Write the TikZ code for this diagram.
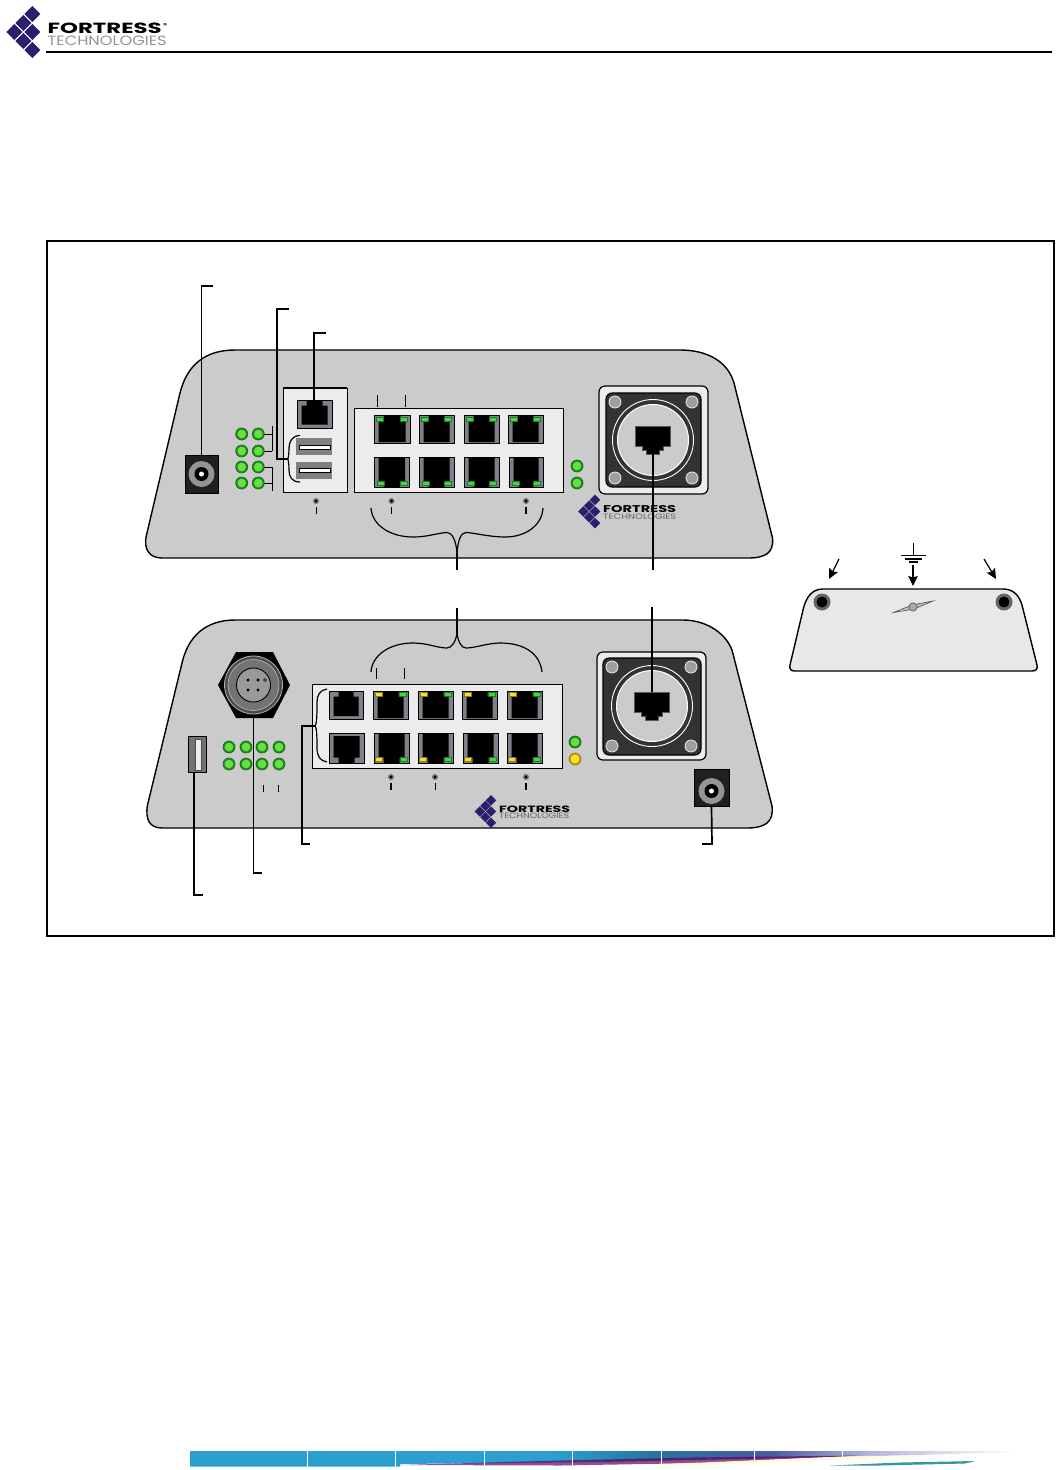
\documentclass[tikz,border=0pt]{standalone}
\usepackage{fontspec}
\setmainfont{Poppins}
\usetikzlibrary{arrows.meta}
\definecolor{navyd}{HTML}{2A1F6E}
\definecolor{bodyg}{HTML}{CBCBCB}
\definecolor{panelg}{HTML}{ECECEC}
\definecolor{portg}{HTML}{80808A}
\definecolor{ledgo}{HTML}{1F8F1F}
\definecolor{ledgi}{HTML}{66E044}
\definecolor{ledyo}{HTML}{C9A400}
\definecolor{ledy}{HTML}{FFDC33}
\definecolor{rjgreen}{HTML}{3DDC3D}
\definecolor{barA}{HTML}{2A9FD0}
\definecolor{barB}{HTML}{27739F}
\definecolor{barC}{HTML}{4B5A9E}
\definecolor{barD}{HTML}{B4B6E0}
\pgfdeclarehorizontalshading{barmain}{100bp}{color(0bp)=(barA);color(25bp)=(barA);color(47bp)=(barA);color(53bp)=(barB);color(60bp)=(barC);color(66bp)=(barD);color(75bp)=(white);color(100bp)=(white)}
\tikzset{
 x=1pt,y=-1pt,
 leader/.style={draw=black,line width=1.2pt},
 leaderb/.style={draw=black,line width=1.7pt},
 thin tick/.style={draw=black,line width=1pt},
 thick tick/.style={draw=black,line width=1.5pt},
 device/.style={draw=black,line width=1.4pt,fill=bodyg,line join=round},
 panel/.style={draw=black,line width=1pt,fill=panelg},
 brace/.style={draw=black,line width=1.2pt},
 arrowline/.style={draw=black,line width=1.2pt,-{Stealth[length=10pt,width=9.5pt,inset=1.5pt]}},
 diamondmark/.style={fill=navyd},
 jackbox/.style={draw=black,fill=black!88,line width=.8pt,minimum width=#1,inner sep=0pt},
 usbbox/.style={fill=black!50,inner sep=0pt},
}
\newcommand{\logomark}[5]{%
 \foreach \cx/\cy in {0/-2,0/0,0/2,-1/-1,-1/1,-2/0}{%
  \fill[diamondmark] ({#1+\cx*#3-#5},{#2+\cy*#4}) -- ({#1+\cx*#3},{#2+\cy*#4-#5}) -- ({#1+\cx*#3+#5},{#2+\cy*#4}) -- ({#1+\cx*#3},{#2+\cy*#4+#5}) -- cycle;
 }}
\newcommand{\led}[4]{%
 \fill[draw=#3!75!black,line width=.7pt,fill=#3] (#1,#2) circle (6);
 \fill[#4] (#1,#2) circle (4.3);
}
\newcommand{\dotled}[2]{%
 \fill[black!55] (#1,#2) circle (3);
 \fill[black] (#1,#2) circle (1.7);
}
\newcommand{\rjled}[3]{%
 \fill[draw=black!45!#3,line width=.6pt,fill=#3] ({#1-3.7},{#2-2}) rectangle ({#1+3.7},{#2+2});
}
\newcommand{\rjport}[6]{%
 \pgfmathsetmacro\hw{(#2-#1)/2}\pgfmathsetmacro\hh{(#4-#3)/2}%
 \begin{scope}[shift={({(#1+#2)/2},{(#3+#4)/2})},yscale=#5]
 \fill[draw=black,line width=1pt,fill=portg] (-\hw,-\hh) rectangle (\hw,\hh);
 \fill[black] ({-\hw+4.5},{\hh-#6}) -- ({\hw-4.5},{\hh-#6}) -- ({\hw-4.5},{-\hh+5.5}) -- ({\hw-9.5},{-\hh+5.5}) -- ({\hw-9.5},-\hh) -- ({-\hw+9.5},-\hh) -- ({-\hw+9.5},{-\hh+5.5}) -- ({-\hw+4.5},{-\hh+5.5}) -- cycle;
 \end{scope}}
\newcommand{\bigconn}[8]{%
 \draw[line width=1.2pt,fill=panelg,rounded corners=6pt] (#1,#2) rectangle (#3,#4);
 \draw[line width=1.1pt,fill=black!80,rounded corners=6pt] (#5,#6) rectangle (#7,#8);
}
\newcommand{\bigcore}[7]{%
 \foreach \hx/\hy in {#3/#5,#4/#5,#3/#6,#4/#6}{
  \fill[draw=black!12,line width=.9pt,fill=black!38] ({#1+\hx},{#2+\hy}) circle (6);
 }
 \draw[white,line width=.9pt] (#1,#2) circle (40.5);
 \fill[draw=white,line width=1pt,fill=bodyg] (#1,#2) circle (35.5);
 \fill[draw=black!65,line width=.7pt,fill=black] ({#1-17.5},{#2-14}) -- ({#1+17.5},{#2-14}) -- ({#1+17.5},{#2+6}) -- ({#1+10.5},{#2+6}) -- ({#1+10.5},{#2+10}) -- ({#1+6.5},{#2+10}) -- ({#1+6.5},{#2+14}) -- ({#1-6.5},{#2+14}) -- ({#1-6.5},{#2+10}) -- ({#1-10.5},{#2+10}) -- ({#1-10.5},{#2+6}) -- ({#1-17.5},{#2+6}) -- cycle;
 \coordinate (#7top) at (#1,{#2-14});
 \coordinate (#7bot) at (#1,{#2+14});
}
\newcommand{\jack}[6]{%
 \node[jackbox=#4pt,minimum height=#5pt] (#1) at (#2,#3) {};
 \fill[black!42] (#2,#6) circle (13);
 \fill[black] (#2,#6) circle (7);
 \fill[white] (#2,#6) circle (2.5);
}
\begin{document}
\begin{tikzpicture}
\useasboundingbox (0,0) rectangle (1055,1470);
\fill[white] (0,0) rectangle (1055,1470);

% header
\logomark{32.3}{32}{9}{9}{8}
\node[inner sep=0pt,anchor=north west] (hdrA) at (47.5,23) {\resizebox{114pt}{10.5pt}{\bfseries FORTRESS}};
\node[inner sep=0pt,anchor=north west] (hdrR) at (163,23) {\resizebox{4pt}{4pt}{\bfseries ®}};
\node[inner sep=0pt,anchor=north west,text=black!42] (hdrB) at (47.5,36) {\resizebox{119pt}{9.5pt}{TECHNOLOGIES}};
\coordinate (ruleL) at (46,52);
\coordinate (ruleR) at (1052,52);
\draw[line width=2pt] (ruleL) -- (ruleR);

% frame
\draw[line width=1.8pt] (47,241) rectangle (1054,936);

% ---------- device 1 ----------
\draw[device] (235,350) .. controls (205,350) and (187,365) .. (180,393)
  -- (146.5,535) .. controls (143,550) and (150,558) .. (162,558)
  -- (748,558) .. controls (765,558) and (774,553) .. (772.5,538)
  -- (734,383) .. controls (728,362) and (708,350) .. (680,350) -- cycle;

\jack{jackA}{201.5}{474}{33}{38}{474}
\foreach \ly in {434,451,467,483}{\led{241.7}{\ly}{ledgo}{ledgi}\led{258.3}{\ly}{ledgo}{ledgi}}
\foreach \ly in {434,451}{\draw[thin tick] (264,\ly) -- (272,\ly);}
\foreach \ly in {467,483}{\draw[thin tick] (264,\ly) -- (272,\ly);}
\draw[thin tick] (272,426) -- (272,451);
\draw[thin tick] (272,467) -- (272,491);

\draw[panel] (283,388) rectangle (347,492.5);
\draw[line width=1.6pt] (283,388) -- (347,388);
\rjport{297}{332}{400}{428}{1}{3.5}
\coordinate (consoleTop) at (314,402);
\node[usbbox,minimum width=36pt,minimum height=17pt] (usbA) at (314,446.5) {};
\node[usbbox,minimum width=36pt,minimum height=17pt] (usbB) at (314,470.5) {};
\draw[fill=white,line width=.8pt] (299.5,445) rectangle (330,449);
\draw[fill=white,line width=.8pt] (299.5,468.5) rectangle (330,472.5);
\coordinate (usbtip) at (288,459);
\draw[brace] (300,435.5) .. controls (292,435.5) and (289,442) .. (289,448) .. controls (289,455) and (288,458) .. (usbtip) .. controls (288,460) and (289,463) .. (289,470) .. controls (289,477) and (292,482) .. (300,482);

\draw[panel] (354,408) rectangle (563,492.5);
\foreach \xa/\xb in {374/410,419/454,464/499,508/543}{
 \rjport{\xa}{\xb}{415}{443}{1}{1}
 \rjled{\xa+6}{418.8}{rjgreen}
 \rjled{\xb-6}{418.8}{rjgreen}
}
\foreach \xa/\xb in {374/409.5,419/454,464/499,509/543}{
 \rjport{\xa}{\xb}{457}{487}{-1}{1}
 \rjled{\xa+6.5}{483}{rjgreen}
 \rjled{\xb-6}{483}{rjgreen}
}
\draw[thin tick] (377,395) -- (377,407);
\draw[thin tick] (405,395) -- (405,407);
\led{577}{466}{ledgo}{ledgi}
\led{577}{483}{ledgo}{ledgi}
\foreach \dx in {316,391.5,526}{\dotled{\dx}{501}}
\draw[thin tick] (316,507) -- (316,514);
\draw[thin tick] (391.5,507) -- (391.5,514);
\draw[thick tick] (526,507) -- (526,514);

\bigconn{599}{386}{708}{494}{606}{393}{701}{487}
\bigcore{653}{440}{-38}{39}{-38}{38}{rjA}

\logomark{595}{511.5}{5.8}{5.8}{5.3}
\node[inner sep=0pt,anchor=north west] (logoA) at (603,505) {\resizebox{73pt}{7pt}{\bfseries FORTRESS}};
\node[inner sep=0pt,anchor=north west,text=black!60] (logoAb) at (603,513.5) {\resizebox{73pt}{5.5pt}{TECHNOLOGIES}};

% connectors device 1
\coordinate (jackAturn) at (201.5,286);
\coordinate (jackAend) at (213,286);
\draw[leader] (jackA.north) -- (jackAturn) -- (jackAend);
\coordinate (usbturn) at (277,459);
\coordinate (usbup) at (277,309);
\coordinate (usbend) at (289,309);
\draw[leader,line width=1.4pt] (usbtip) -- (usbturn) -- (usbup) -- (usbend);
\coordinate (consUp) at (314,333);
\coordinate (consEnd) at (326,333);
\draw[leaderb] (consoleTop) -- (consUp) -- (consEnd);
\coordinate (rjAend) at (653,570);
\draw[leader] (rjAbot) -- (rjAend);

% brace device 1
\coordinate (braceAtip) at (457,553);
\coordinate (braceAend) at (457,570);
\draw[brace] (371,508) .. controls (372,525) and (390,537) .. (413,537) .. controls (428,537) and (437,533) .. (447,532.5) .. controls (452,532.5) and (456,540) .. (braceAtip);
\draw[brace] (543,508) .. controls (542,526) and (525,537) .. (505,537) .. controls (490,537) and (475,533) .. (466,532.5) .. controls (461,532.5) and (458,540) .. (braceAtip);
\draw[leaderb] (braceAtip) -- (braceAend);

% ---------- device 2 ----------
\draw[device] (235,620) .. controls (205,620) and (188,637) .. (182,663)
  -- (147.5,805) .. controls (145,820) and (150,828) .. (162,828)
  -- (747,828) .. controls (765,828) and (774,822) .. (772,806)
  -- (732,650) .. controls (725,632) and (705,620) .. (683,620) -- cycle;

% USB
\node[draw=black,line width=1.6pt,fill=black!55,minimum width=18pt,minimum height=36pt,inner sep=0pt] (usbC) at (197.5,754.5) {};
\fill[panelg] (195.5,739) rectangle (201.5,770);
\draw[line width=.6pt,draw=black!70] (201.5,739) rectangle (195.5,770);

% hex connector
\coordinate (hexC) at (253.5,685);
\fill[black] (218,685) -- (236,652) -- (273,652) -- (290,685) -- (273,718) -- (236,718) -- cycle;
\coordinate (hexBot) at (253.5,718);
\fill[draw=black!30,line width=.8pt,fill=black!70] (hexC) circle (29);
\fill[draw=black!30,line width=.7pt,fill=black!55] (hexC) circle (25.5);
\fill[draw=black,line width=.9pt,fill=black!40] (hexC) circle (17);
\foreach \px/\py in {248/680,258/680,248/690,258/690}{\fill[black] (\px,\py) circle (1.7);}
\draw[black,line width=.5pt] (265,680) circle (1.5);

\foreach \lx in {229,246,262,279}{\led{\lx}{747}{ledgo}{ledgi}\led{\lx}{764}{ledgo}{ledgi}}
\draw[thin tick] (263,785) -- (263,792);
\draw[thin tick] (278,785) -- (278,792);

\draw[panel] (312,684) rectangle (562,768);
\rjport{329}{363}{691}{719}{1}{3}
\rjport{329}{364}{733}{763}{-1}{3}
\foreach \xa/\xb in {373/408,418/453,462/497,507/542}{
 \rjport{\xa}{\xb}{691}{719}{1}{1}
 \rjled{\xa+6}{694.5}{ledy}
 \rjled{\xb-5}{694.5}{rjgreen}
}
\foreach \xa/\xb in {374/409,418/453,463/498,507/542}{
 \rjport{\xa}{\xb}{733}{763}{-1}{1}
 \rjled{\xa+5}{759}{ledy}
 \rjled{\xb-5}{759}{rjgreen}
}
\led{575}{742}{ledgo}{ledgi}
\led{575}{759}{ledyo}{ledy}
\foreach \dx in {391,435,526}{\dotled{\dx}{777}}
\draw[thick tick] (391,783) -- (391,790);
\draw[thin tick] (435,783) -- (435,790);
\draw[thick tick] (526,783) -- (526,790);
\draw[thin tick] (376.5,668) -- (376.5,679);
\draw[thin tick] (404.5,668) -- (404.5,679);

\bigconn{597}{652}{706}{760}{603}{658}{701}{755}
\bigcore{652}{706}{-40}{39}{-39}{40}{rjB}

\jack{jackB}{711.5}{787.5}{35}{37}{791}

\logomark{491}{811.5}{5.6}{5.6}{5.2}
\node[inner sep=0pt,anchor=north west] (logoB) at (499,805.5) {\resizebox{71pt}{6.5pt}{\bfseries FORTRESS}};
\node[inner sep=0pt,anchor=north west,text=black!60] (logoBb) at (499,813) {\resizebox{70pt}{5.5pt}{TECHNOLOGIES}};

% connectors device 2
\coordinate (usbCturn) at (194,895);
\coordinate (usbCend) at (203,895);
\draw[leaderb] (194,773) -- (usbCturn) -- (usbCend);
\coordinate (hexTurn) at (253.5,873);
\coordinate (hexEnd) at (262,873);
\draw[leaderb] (hexBot) -- (hexTurn) -- (hexEnd);
\coordinate (brCtip) at (315,726);
\coordinate (brCturn) at (302,726);
\coordinate (brCup) at (302,844);
\coordinate (brCend) at (310,844);
\draw[leaderb] (brCtip) -- (brCturn) -- (brCup) -- (brCend);
\draw[brace] (327,689) .. controls (320,690) and (317,695) .. (317,702) .. controls (317,712) and (317,724) .. (brCtip) .. controls (317,728) and (317,740) .. (317,748) .. controls (317,756) and (320,761) .. (327,762);
\coordinate (jackBturn) at (712,844);
\coordinate (jackBend) at (702,844);
\draw[leaderb] (jackB.south) -- (jackBturn) -- (jackBend);
\coordinate (rjBstart) at (652,607);
\draw[leader] (rjBstart) -- (rjBtop);

% brace device 2
\coordinate (braceBtip) at (457,633);
\coordinate (braceBend) at (457,608);
\draw[brace] (371,672) .. controls (372,655) and (390,643) .. (413,643) .. controls (428,643) and (437,648) .. (447,648) .. controls (452,648) and (456,641) .. (braceBtip);
\draw[brace] (542,672) .. controls (540,654) and (525,643) .. (500,643) .. controls (488,643) and (475,648) .. (466,648) .. controls (461,648) and (458,641) .. (braceBtip);
\draw[leaderb] (braceBtip) -- (braceBend);

% ---------- mounting plate ----------
\draw[device,fill=black!9] (823,589) -- (1003,589) .. controls (1013,589) and (1019,595) .. (1022,605)
 -- (1037,665) .. controls (1038,669) and (1036,671) .. (1032,671)
 -- (795,671) .. controls (791,671) and (789,669) .. (790,665)
 -- (803,610) .. controls (806,597) and (812,589) .. (823,589) -- cycle;
\foreach \hx in {822,1004}{
 \fill[black!60] (\hx,602) circle (8.5);
 \fill[black] (\hx,602) circle (5.5);
}
\coordinate (slotC) at (913,607);
\fill[draw=black!70,line width=.6pt,fill=black!25] (893.5,612.5) -- (912,605) -- (933,601) -- (914,609) -- cycle;
\fill[draw=black!65,line width=.6pt,fill=black!35] (slotC) circle (4.2);
\coordinate (gndT) at (913,543);
\coordinate (gndB) at (913,555);
\draw[line width=1pt] (gndT) -- (gndB);
\draw[line width=1pt] (901,555) -- (926,555);
\draw[line width=1.3pt] (905,559) -- (922,559);
\draw[line width=1.7pt] (909,562.3) -- (918,562.3);
\coordinate (gndA) at (913,565);
\coordinate (gndP) at (913,586);
\draw[arrowline] (gndA) -- (gndP);
\coordinate (lA) at (839,559);
\coordinate (lB) at (829,579);
\draw[arrowline] (lA) -- (lB);
\coordinate (rA) at (984,559);
\coordinate (rB) at (996,579);
\draw[arrowline] (rA) -- (rB);

% ---------- footer band ----------
\shade[shading=barmain] (190,1451) -- (1020,1451) -- (1020,1452) -- (880,1456) -- (600,1462) -- (400,1464) -- (400,1466.5) -- (190,1466.5) -- cycle;
\fill[violet!75!black,opacity=.7] (400,1465) -- (560,1460.5) -- (690,1457.5) -- (860,1455.5) -- (700,1463) -- (560,1465.5) -- cycle;
\fill[yellow!18,opacity=.9] (640,1465) -- (860,1456) -- (965,1455) -- (800,1461) -- (680,1466.5) -- cycle;
\fill[teal,opacity=.8] (830,1465.5) -- (900,1462.5) -- (975,1461) -- (965,1463.5) -- (880,1465.5) -- cycle;
\foreach \sx in {307,395,484,572,661,754,842}{\draw[white,line width=.7pt] (\sx,1450) -- (\sx,1467);}
\end{tikzpicture}
\end{document}
